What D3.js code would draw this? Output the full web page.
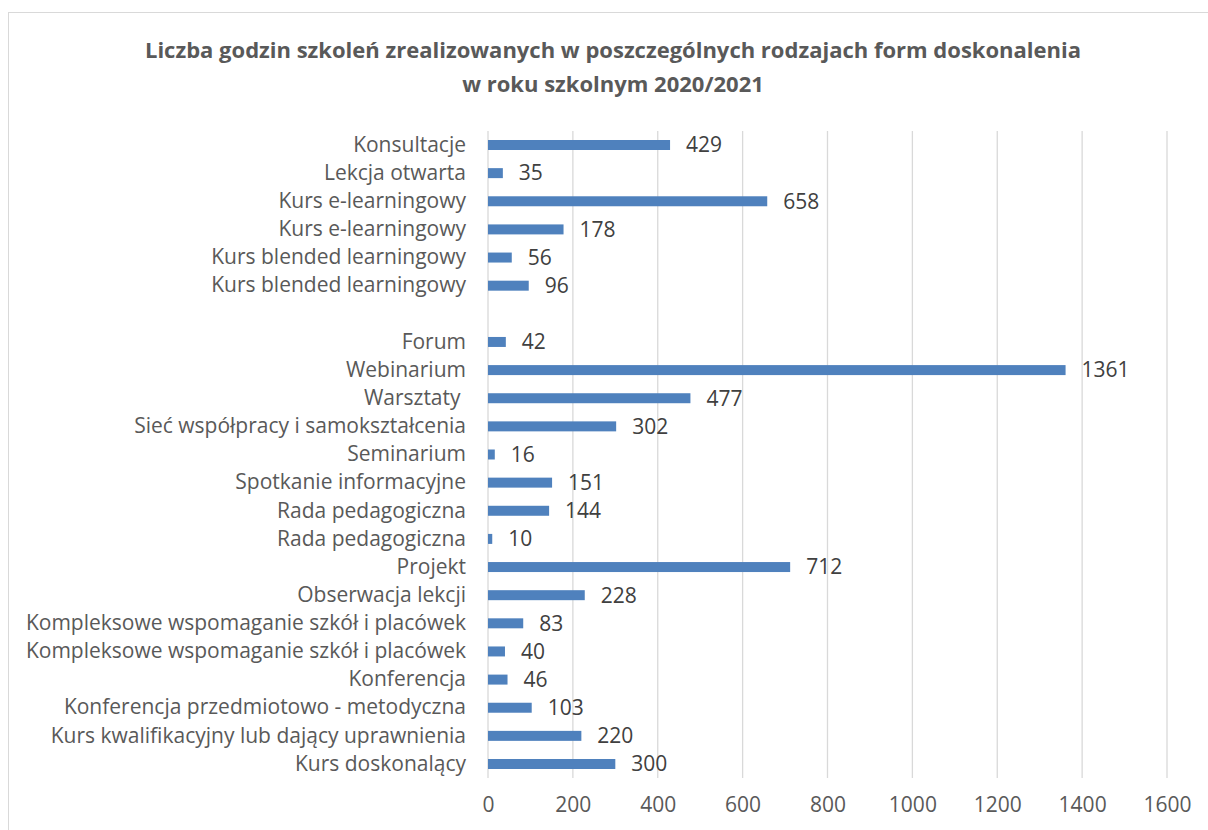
<!DOCTYPE html>
<html>
<head>
<meta charset="utf-8">
<script src="https://cdn.jsdelivr.net/npm/d3@7"></script>
<style>
  body { margin: 0; background: #fff; }
  text { font-family: "Open Sans", "Noto Sans", sans-serif; }
</style>
</head>
<body>
<script>
// chart data, top to bottom ("" = empty gap row)
var categories = [
  "Konsultacje", "Lekcja otwarta", "Kurs e-learningowy", "Kurs e-learningowy",
  "Kurs blended learningowy", "Kurs blended learningowy", "",
  "Forum", "Webinarium", "Warsztaty ", "Sieć współpracy i samokształcenia",
  "Seminarium", "Spotkanie informacyjne", "Rada pedagogiczna", "Rada pedagogiczna",
  "Projekt", "Obserwacja lekcji", "Kompleksowe wspomaganie szkół i placówek",
  "Kompleksowe wspomaganie szkół i placówek", "Konferencja",
  "Konferencja przedmiotowo - metodyczna", "Kurs kwalifikacyjny lub dający uprawnienia",
  "Kurs doskonalący"
];
var values = [429, 35, 658, 178, 56, 96, null, 42, 1361, 477, 302, 16, 151, 144, 10,
  712, 228, 83, 40, 46, 103, 220, 300];
var xTicks = [0, 200, 400, 600, 800, 1000, 1200, 1400, 1600];
var titleLines = [
  "Liczba godzin szkoleń zrealizowanych w poszczególnych rodzajach form doskonalenia",
  "w roku szkolnym 2020/2021"
];

var width = 1208, height = 830;
var margin = {top: 131, left: 488, right: 43, bottom: 52};
var labelSize = 21;

var svg = d3.select("body").append("svg")
    .attr("width", width)
    .attr("height", height);

// chart frame (cut off at right and bottom like the screenshot)
svg.append("rect")
    .attr("x", 8.5).attr("y", 12.5)
    .attr("width", 1220).attr("height", 840)
    .attr("fill", "#fff")
    .attr("stroke", "#d9d9d9");

// title
svg.selectAll("text.title")
  .data(titleLines)
  .enter().append("text")
    .attr("class", "title")
    .attr("x", 613)
    .attr("y", function(d, i) { return 58 + i * 34; })
    .attr("text-anchor", "middle")
    .attr("font-size", 22)
    .attr("font-weight", "bold")
    .attr("fill", "#595959")
    .text(function(d) { return d; });

var x = d3.scaleLinear()
    .domain([0, 1600])
    .range([margin.left, width - margin.right + 2]);

var idx = d3.range(categories.length);
var y = d3.scaleBand()
    .domain(idx)
    .range([margin.top, height - margin.bottom])
    .paddingInner(0.645)
    .paddingOuter(0.32);

// vertical gridlines
svg.append("g")
  .selectAll("line")
  .data(xTicks)
  .enter().append("line")
    .attr("x1", function(d) { return x(d); })
    .attr("x2", function(d) { return x(d); })
    .attr("y1", margin.top)
    .attr("y2", height - margin.bottom)
    .attr("stroke", "#d9d9d9")
    .attr("stroke-width", 1.3);

// x axis labels
var xAxis = d3.axisBottom(x).tickValues(xTicks).tickFormat(d3.format("d"))
    .tickSize(0).tickPadding(0);
var gx = svg.append("g")
    .attr("transform", "translate(0," + (height - margin.bottom) + ")")
    .call(xAxis);
gx.select(".domain").remove();
gx.selectAll("text")
    .attr("y", 27)
    .attr("dy", "0.35em")
    .attr("font-size", labelSize)
    .attr("font-family", null)
    .attr("fill", "#595959");

// category labels
var yAxis = d3.axisLeft(y).tickSize(0).tickPadding(0)
    .tickFormat(function(i) { return categories[i]; });
var gy = svg.append("g")
    .attr("transform", "translate(" + margin.left + ",0)")
    .call(yAxis);
gy.select(".domain").remove();
gy.selectAll("text")
    .attr("x", -22)
    .attr("font-size", labelSize)
    .attr("font-family", null)
    .attr("fill", "#595959")
    .style("white-space", "pre");

// bars
var barData = idx.filter(function(i) { return values[i] != null; });
svg.append("g")
  .selectAll("rect")
  .data(barData)
  .enter().append("rect")
    .attr("x", x(0))
    .attr("y", function(i) { return y(i); })
    .attr("width", function(i) { return x(values[i]) - x(0); })
    .attr("height", y.bandwidth())
    .attr("fill", "#4f81bd");

// value labels
svg.append("g")
  .selectAll("text")
  .data(barData)
  .enter().append("text")
    .attr("x", function(i) { return x(values[i]) + 16; })
    .attr("y", function(i) { return y(i) + y.bandwidth() / 2; })
    .attr("dy", "0.35em")
    .attr("font-size", labelSize)
    .attr("fill", "#404040")
    .text(function(i) { return values[i]; });
</script>
</body>
</html>
